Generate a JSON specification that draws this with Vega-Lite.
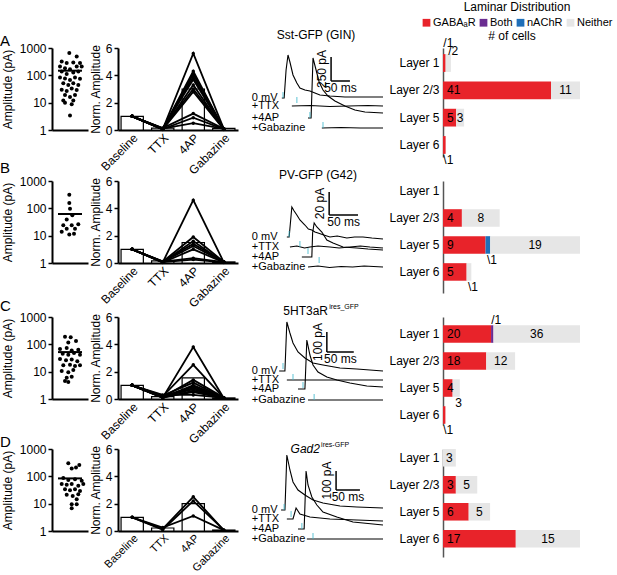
{
"$schema":"https://vega.github.io/schema/vega-lite/v6.json",
"padding":{"left":0,"top":2,"right":0,"bottom":0},
"columns":4,
"bounds":"flush",
"align":"each",
"spacing":{"row":24,"column":30},
"resolve":{"scale":{"color":"independent"}},
"config":{
 "font":"Liberation Sans",
 "view":{"stroke":null},
 "axis":{"domainColor":"#000","domainWidth":2,"tickColor":"#000","tickWidth":1.5,"tickSize":4,"labelFontSize":12,"labelColor":"#000","titleFontSize":12,"titleFontWeight":"normal","titleColor":"#000","grid":false},
 "text":{"fontSize":12,"color":"#000"},
 "title":{"fontSize":15,"fontWeight":"normal","color":"#000"}
},
"datasets":{
 "amp":[
  {"row":"A","jx":17.3,"v":650},{"row":"A","jx":24.7,"v":490},{"row":"A","jx":9.7,"v":320},{"row":"A","jx":14.7,"v":280},{"row":"A","jx":21.3,"v":295},{"row":"A","jx":28,"v":280},{"row":"A","jx":8,"v":210},{"row":"A","jx":13,"v":182},{"row":"A","jx":18,"v":167},{"row":"A","jx":24.7,"v":209},{"row":"A","jx":29.7,"v":209},{"row":"A","jx":9.7,"v":137},{"row":"A","jx":14.7,"v":112},{"row":"A","jx":21.3,"v":126},{"row":"A","jx":26.3,"v":137},{"row":"A","jx":8,"v":84},{"row":"A","jx":13,"v":77},{"row":"A","jx":18,"v":67},{"row":"A","jx":23,"v":84},{"row":"A","jx":28,"v":75},{"row":"A","jx":11.3,"v":51},{"row":"A","jx":16.3,"v":44},{"row":"A","jx":21.3,"v":51},{"row":"A","jx":26.3,"v":44},{"row":"A","jx":9.7,"v":30},{"row":"A","jx":14.7,"v":27},{"row":"A","jx":19.7,"v":33},{"row":"A","jx":24.7,"v":29},{"row":"A","jx":13,"v":19},{"row":"A","jx":18,"v":16},{"row":"A","jx":23,"v":19},{"row":"A","jx":11.3,"v":12},{"row":"A","jx":21.3,"v":12},{"row":"A","jx":13,"v":10},{"row":"A","jx":19.7,"v":8.7},{"row":"A","jx":18,"v":3.4},
  {"row":"B","jx":17.3,"v":312},{"row":"B","jx":17.3,"v":156},{"row":"B","jx":18,"v":97},{"row":"B","jx":20.3,"v":56},{"row":"B","jx":14.7,"v":39},{"row":"B","jx":11.3,"v":24},{"row":"B","jx":19.7,"v":24},{"row":"B","jx":26.3,"v":26},{"row":"B","jx":14.7,"v":18},{"row":"B","jx":23,"v":18},{"row":"B","jx":9.7,"v":14},{"row":"B","jx":17.3,"v":11},{"row":"B","jx":22,"v":11.8},
  {"row":"C","jx":13,"v":191},{"row":"C","jx":18.7,"v":181},{"row":"C","jx":24,"v":133},{"row":"C","jx":16.3,"v":116},{"row":"C","jx":8,"v":67},{"row":"C","jx":14.7,"v":73},{"row":"C","jx":19.7,"v":60},{"row":"C","jx":26.3,"v":63},{"row":"C","jx":10.7,"v":45},{"row":"C","jx":16.3,"v":42},{"row":"C","jx":22,"v":48},{"row":"C","jx":28,"v":42},{"row":"C","jx":8,"v":29},{"row":"C","jx":14,"v":26},{"row":"C","jx":19.7,"v":28},{"row":"C","jx":25.3,"v":24},{"row":"C","jx":11.3,"v":17},{"row":"C","jx":18,"v":18},{"row":"C","jx":23,"v":16},{"row":"C","jx":28,"v":17},{"row":"C","jx":9.7,"v":10.5},{"row":"C","jx":16.3,"v":9.6},{"row":"C","jx":21.3,"v":11.4},{"row":"C","jx":14.7,"v":6.0},{"row":"C","jx":19.7,"v":6.5},{"row":"C","jx":13,"v":4.6},{"row":"C","jx":16.3,"v":4.2},
  {"row":"D","jx":16.3,"v":298},{"row":"D","jx":27.3,"v":258},{"row":"D","jx":24,"v":212},{"row":"D","jx":19.7,"v":194},{"row":"D","jx":11.3,"v":86},{"row":"D","jx":16.3,"v":73},{"row":"D","jx":23,"v":79},{"row":"D","jx":29.7,"v":69},{"row":"D","jx":9.7,"v":52},{"row":"D","jx":14.7,"v":49},{"row":"D","jx":19.7,"v":52},{"row":"D","jx":26.3,"v":45},{"row":"D","jx":31.3,"v":52},{"row":"D","jx":13,"v":34},{"row":"D","jx":18,"v":31},{"row":"D","jx":23,"v":34},{"row":"D","jx":28,"v":29},{"row":"D","jx":14.7,"v":21},{"row":"D","jx":20.7,"v":19},{"row":"D","jx":26.3,"v":22},{"row":"D","jx":24.7,"v":14.5},{"row":"D","jx":19.7,"v":9.5},{"row":"D","jx":24.7,"v":9.5},{"row":"D","jx":19.7,"v":6.8}
 ],
 "ampMean":[{"row":"A","mean":148},{"row":"B","mean":62},{"row":"C","mean":52},{"row":"D","mean":84}],
 "normBar":[
  {"row":"A","cond":"Baseline","mean":1.0},{"row":"A","cond":"TTX","mean":0.14},{"row":"A","cond":"4AP","mean":3.0},{"row":"A","cond":"Gabazine","mean":0.12},
  {"row":"B","cond":"Baseline","mean":1.0},{"row":"B","cond":"TTX","mean":0.15},{"row":"B","cond":"4AP","mean":1.5},{"row":"B","cond":"Gabazine","mean":0.08},
  {"row":"C","cond":"Baseline","mean":1.0},{"row":"C","cond":"TTX","mean":0.17},{"row":"C","cond":"4AP","mean":1.55},{"row":"C","cond":"Gabazine","mean":0.08},
  {"row":"D","cond":"Baseline","mean":1.0},{"row":"D","cond":"TTX","mean":0.22},{"row":"D","cond":"4AP","mean":2.0},{"row":"D","cond":"Gabazine","mean":0.07}
 ],
 "norm":[
  {"row":"A","cell":1,"cond":"Baseline","v":1},{"row":"A","cell":1,"cond":"TTX","v":0.05},{"row":"A","cell":1,"cond":"4AP","v":5.6},{"row":"A","cell":1,"cond":"Gabazine","v":0.08},
  {"row":"A","cell":2,"cond":"Baseline","v":1},{"row":"A","cell":2,"cond":"TTX","v":0.08},{"row":"A","cell":2,"cond":"4AP","v":4.3},{"row":"A","cell":2,"cond":"Gabazine","v":0.05},
  {"row":"A","cell":3,"cond":"Baseline","v":1},{"row":"A","cell":3,"cond":"TTX","v":0.10},{"row":"A","cell":3,"cond":"4AP","v":4.1},{"row":"A","cell":3,"cond":"Gabazine","v":0.10},
  {"row":"A","cell":4,"cond":"Baseline","v":1},{"row":"A","cell":4,"cond":"TTX","v":0.04},{"row":"A","cell":4,"cond":"4AP","v":3.9},{"row":"A","cell":4,"cond":"Gabazine","v":0.06},
  {"row":"A","cell":5,"cond":"Baseline","v":1},{"row":"A","cell":5,"cond":"TTX","v":0.12},{"row":"A","cell":5,"cond":"4AP","v":3.7},{"row":"A","cell":5,"cond":"Gabazine","v":0.08},
  {"row":"A","cell":6,"cond":"Baseline","v":1},{"row":"A","cell":6,"cond":"TTX","v":0.06},{"row":"A","cell":6,"cond":"4AP","v":3.3},{"row":"A","cell":6,"cond":"Gabazine","v":0.04},
  {"row":"A","cell":7,"cond":"Baseline","v":1},{"row":"A","cell":7,"cond":"TTX","v":0.09},{"row":"A","cell":7,"cond":"4AP","v":3.0},{"row":"A","cell":7,"cond":"Gabazine","v":0.07},
  {"row":"A","cell":8,"cond":"Baseline","v":1},{"row":"A","cell":8,"cond":"TTX","v":0.05},{"row":"A","cell":8,"cond":"4AP","v":2.8},{"row":"A","cell":8,"cond":"Gabazine","v":0.05},
  {"row":"A","cell":9,"cond":"Baseline","v":1},{"row":"A","cell":9,"cond":"TTX","v":0.14},{"row":"A","cell":9,"cond":"4AP","v":1.2},{"row":"A","cell":9,"cond":"Gabazine","v":0.09},
  {"row":"A","cell":10,"cond":"Baseline","v":1},{"row":"A","cell":10,"cond":"TTX","v":0.07},{"row":"A","cell":10,"cond":"4AP","v":0.9},{"row":"A","cell":10,"cond":"Gabazine","v":0.06},
  {"row":"A","cell":11,"cond":"Baseline","v":1},{"row":"A","cell":11,"cond":"TTX","v":0.10},{"row":"A","cell":11,"cond":"4AP","v":0.5},{"row":"A","cell":11,"cond":"Gabazine","v":0.08},
  {"row":"B","cell":1,"cond":"Baseline","v":1},{"row":"B","cell":1,"cond":"TTX","v":0.05},{"row":"B","cell":1,"cond":"4AP","v":4.6},{"row":"B","cell":1,"cond":"Gabazine","v":0.05},
  {"row":"B","cell":2,"cond":"Baseline","v":1},{"row":"B","cell":2,"cond":"TTX","v":0.10},{"row":"B","cell":2,"cond":"4AP","v":1.9},{"row":"B","cell":2,"cond":"Gabazine","v":0.08},
  {"row":"B","cell":3,"cond":"Baseline","v":1},{"row":"B","cell":3,"cond":"TTX","v":0.06},{"row":"B","cell":3,"cond":"4AP","v":1.6},{"row":"B","cell":3,"cond":"Gabazine","v":0.04},
  {"row":"B","cell":4,"cond":"Baseline","v":1},{"row":"B","cell":4,"cond":"TTX","v":0.12},{"row":"B","cell":4,"cond":"4AP","v":1.4},{"row":"B","cell":4,"cond":"Gabazine","v":0.10},
  {"row":"B","cell":5,"cond":"Baseline","v":1},{"row":"B","cell":5,"cond":"TTX","v":0.08},{"row":"B","cell":5,"cond":"4AP","v":1.25},{"row":"B","cell":5,"cond":"Gabazine","v":0.06},
  {"row":"B","cell":6,"cond":"Baseline","v":1},{"row":"B","cell":6,"cond":"TTX","v":0.04},{"row":"B","cell":6,"cond":"4AP","v":1.0},{"row":"B","cell":6,"cond":"Gabazine","v":0.05},
  {"row":"B","cell":7,"cond":"Baseline","v":1},{"row":"B","cell":7,"cond":"TTX","v":0.10},{"row":"B","cell":7,"cond":"4AP","v":0.35},{"row":"B","cell":7,"cond":"Gabazine","v":0.07},
  {"row":"B","cell":8,"cond":"Baseline","v":1},{"row":"B","cell":8,"cond":"TTX","v":0.07},{"row":"B","cell":8,"cond":"4AP","v":0.25},{"row":"B","cell":8,"cond":"Gabazine","v":0.05},
  {"row":"C","cell":1,"cond":"Baseline","v":1},{"row":"C","cell":1,"cond":"TTX","v":0.10},{"row":"C","cell":1,"cond":"4AP","v":3.8},{"row":"C","cell":1,"cond":"Gabazine","v":0.05},
  {"row":"C","cell":2,"cond":"Baseline","v":1},{"row":"C","cell":2,"cond":"TTX","v":0.20},{"row":"C","cell":2,"cond":"4AP","v":2.5},{"row":"C","cell":2,"cond":"Gabazine","v":0.08},
  {"row":"C","cell":3,"cond":"Baseline","v":1},{"row":"C","cell":3,"cond":"TTX","v":0.15},{"row":"C","cell":3,"cond":"4AP","v":1.4},{"row":"C","cell":3,"cond":"Gabazine","v":0.10},
  {"row":"C","cell":4,"cond":"Baseline","v":1},{"row":"C","cell":4,"cond":"TTX","v":0.25},{"row":"C","cell":4,"cond":"4AP","v":1.2},{"row":"C","cell":4,"cond":"Gabazine","v":0.06},
  {"row":"C","cell":5,"cond":"Baseline","v":1},{"row":"C","cell":5,"cond":"TTX","v":0.10},{"row":"C","cell":5,"cond":"4AP","v":1.0},{"row":"C","cell":5,"cond":"Gabazine","v":0.08},
  {"row":"C","cell":6,"cond":"Baseline","v":1},{"row":"C","cell":6,"cond":"TTX","v":0.18},{"row":"C","cell":6,"cond":"4AP","v":0.9},{"row":"C","cell":6,"cond":"Gabazine","v":0.05},
  {"row":"C","cell":7,"cond":"Baseline","v":1},{"row":"C","cell":7,"cond":"TTX","v":0.12},{"row":"C","cell":7,"cond":"4AP","v":0.8},{"row":"C","cell":7,"cond":"Gabazine","v":0.07},
  {"row":"C","cell":8,"cond":"Baseline","v":1},{"row":"C","cell":8,"cond":"TTX","v":0.22},{"row":"C","cell":8,"cond":"4AP","v":0.7},{"row":"C","cell":8,"cond":"Gabazine","v":0.09},
  {"row":"C","cell":9,"cond":"Baseline","v":1},{"row":"C","cell":9,"cond":"TTX","v":0.08},{"row":"C","cell":9,"cond":"4AP","v":0.6},{"row":"C","cell":9,"cond":"Gabazine","v":0.05},
  {"row":"C","cell":10,"cond":"Baseline","v":1},{"row":"C","cell":10,"cond":"TTX","v":0.15},{"row":"C","cell":10,"cond":"4AP","v":0.5},{"row":"C","cell":10,"cond":"Gabazine","v":0.06},
  {"row":"C","cell":11,"cond":"Baseline","v":1},{"row":"C","cell":11,"cond":"TTX","v":0.30},{"row":"C","cell":11,"cond":"4AP","v":0.3},{"row":"C","cell":11,"cond":"Gabazine","v":0.08},
  {"row":"D","cell":1,"cond":"Baseline","v":1},{"row":"D","cell":1,"cond":"TTX","v":0.15},{"row":"D","cell":1,"cond":"4AP","v":2.5},{"row":"D","cell":1,"cond":"Gabazine","v":0.05},
  {"row":"D","cell":2,"cond":"Baseline","v":1},{"row":"D","cell":2,"cond":"TTX","v":0.10},{"row":"D","cell":2,"cond":"4AP","v":2.2},{"row":"D","cell":2,"cond":"Gabazine","v":0.08},
  {"row":"D","cell":3,"cond":"Baseline","v":1},{"row":"D","cell":3,"cond":"TTX","v":0.25},{"row":"D","cell":3,"cond":"4AP","v":1.1},{"row":"D","cell":3,"cond":"Gabazine","v":0.06}
 ],
 "trace":[
  {"row":"A","cond":"0 mV","t":36,"i":59},{"row":"A","cond":"0 mV","t":42,"i":59},{"row":"A","cond":"0 mV","t":47,"i":87},{"row":"A","cond":"0 mV","t":52,"i":102},{"row":"A","cond":"0 mV","t":57,"i":95},{"row":"A","cond":"0 mV","t":65,"i":82},{"row":"A","cond":"0 mV","t":75,"i":74},{"row":"A","cond":"0 mV","t":83,"i":69},{"row":"A","cond":"0 mV","t":96,"i":67},{"row":"A","cond":"0 mV","t":109,"i":66},{"row":"A","cond":"0 mV","t":122,"i":64},{"row":"A","cond":"0 mV","t":135,"i":62},{"row":"A","cond":"0 mV","t":161,"i":61},{"row":"A","cond":"0 mV","t":200,"i":60},{"row":"A","cond":"0 mV","t":240,"i":60},{"row":"A","cond":"0 mV","t":299,"i":60},
  {"row":"A","cond":"+TTX","t":62,"i":51},{"row":"A","cond":"+TTX","t":110,"i":51.5},{"row":"A","cond":"+TTX","t":160,"i":50.5},{"row":"A","cond":"+TTX","t":210,"i":51},{"row":"A","cond":"+TTX","t":260,"i":51.5},{"row":"A","cond":"+TTX","t":299,"i":51},
  {"row":"A","cond":"+4AP","t":104,"i":39},{"row":"A","cond":"+4AP","t":112,"i":39},{"row":"A","cond":"+4AP","t":117,"i":99},{"row":"A","cond":"+4AP","t":125,"i":87},{"row":"A","cond":"+4AP","t":133,"i":75},{"row":"A","cond":"+4AP","t":143,"i":67},{"row":"A","cond":"+4AP","t":156,"i":61},{"row":"A","cond":"+4AP","t":174,"i":56},{"row":"A","cond":"+4AP","t":200,"i":51},{"row":"A","cond":"+4AP","t":226,"i":47},{"row":"A","cond":"+4AP","t":252,"i":45},{"row":"A","cond":"+4AP","t":299,"i":44},
  {"row":"A","cond":"+Gabazine","t":140,"i":29},{"row":"A","cond":"+Gabazine","t":190,"i":29.5},{"row":"A","cond":"+Gabazine","t":240,"i":29},{"row":"A","cond":"+Gabazine","t":299,"i":29},
  {"row":"B","cond":"0 mV","t":49,"i":56},{"row":"B","cond":"0 mV","t":55,"i":56},{"row":"B","cond":"0 mV","t":62,"i":86},{"row":"B","cond":"0 mV","t":68,"i":82},{"row":"B","cond":"0 mV","t":75,"i":78},{"row":"B","cond":"0 mV","t":83,"i":73},{"row":"B","cond":"0 mV","t":96,"i":68},{"row":"B","cond":"0 mV","t":105,"i":64},{"row":"B","cond":"0 mV","t":114,"i":63},{"row":"B","cond":"0 mV","t":122,"i":61},{"row":"B","cond":"0 mV","t":130,"i":60},{"row":"B","cond":"0 mV","t":145,"i":58},{"row":"B","cond":"0 mV","t":161,"i":56},{"row":"B","cond":"0 mV","t":180,"i":57},{"row":"B","cond":"0 mV","t":205,"i":55},{"row":"B","cond":"0 mV","t":225,"i":56},{"row":"B","cond":"0 mV","t":247,"i":56},{"row":"B","cond":"0 mV","t":270,"i":55},{"row":"B","cond":"0 mV","t":299,"i":54},
  {"row":"B","cond":"+TTX","t":57,"i":46},{"row":"B","cond":"+TTX","t":75,"i":47},{"row":"B","cond":"+TTX","t":95,"i":45},{"row":"B","cond":"+TTX","t":109,"i":46},{"row":"B","cond":"+TTX","t":130,"i":47},{"row":"B","cond":"+TTX","t":161,"i":46},{"row":"B","cond":"+TTX","t":185,"i":45},{"row":"B","cond":"+TTX","t":213,"i":46},{"row":"B","cond":"+TTX","t":240,"i":47},{"row":"B","cond":"+TTX","t":265,"i":46},{"row":"B","cond":"+TTX","t":299,"i":45},
  {"row":"B","cond":"+4AP","t":88,"i":36},{"row":"B","cond":"+4AP","t":114,"i":36},{"row":"B","cond":"+4AP","t":116,"i":60},{"row":"B","cond":"+4AP","t":120,"i":70},{"row":"B","cond":"+4AP","t":127,"i":66},{"row":"B","cond":"+4AP","t":140,"i":61},{"row":"B","cond":"+4AP","t":153,"i":53},{"row":"B","cond":"+4AP","t":169,"i":50},{"row":"B","cond":"+4AP","t":195,"i":46},{"row":"B","cond":"+4AP","t":231,"i":45},{"row":"B","cond":"+4AP","t":260,"i":44},{"row":"B","cond":"+4AP","t":299,"i":43},
  {"row":"B","cond":"+Gabazine","t":104,"i":26},{"row":"B","cond":"+Gabazine","t":130,"i":27},{"row":"B","cond":"+Gabazine","t":160,"i":25.5},{"row":"B","cond":"+Gabazine","t":190,"i":26.5},{"row":"B","cond":"+Gabazine","t":220,"i":26},{"row":"B","cond":"+Gabazine","t":250,"i":27},{"row":"B","cond":"+Gabazine","t":299,"i":26},
  {"row":"C","cond":"0 mV","t":29,"i":54},{"row":"C","cond":"0 mV","t":44,"i":54},{"row":"C","cond":"0 mV","t":49,"i":103},{"row":"C","cond":"0 mV","t":57,"i":92},{"row":"C","cond":"0 mV","t":65,"i":82},{"row":"C","cond":"0 mV","t":78,"i":73},{"row":"C","cond":"0 mV","t":96,"i":67},{"row":"C","cond":"0 mV","t":117,"i":62},{"row":"C","cond":"0 mV","t":143,"i":60},{"row":"C","cond":"0 mV","t":187,"i":57},{"row":"C","cond":"0 mV","t":231,"i":56},{"row":"C","cond":"0 mV","t":299,"i":54},
  {"row":"C","cond":"+TTX","t":49,"i":45},{"row":"C","cond":"+TTX","t":120,"i":45},{"row":"C","cond":"+TTX","t":200,"i":45},{"row":"C","cond":"+TTX","t":299,"i":45},
  {"row":"C","cond":"+4AP","t":78,"i":36},{"row":"C","cond":"+4AP","t":96,"i":36},{"row":"C","cond":"+4AP","t":101,"i":85},{"row":"C","cond":"+4AP","t":109,"i":70},{"row":"C","cond":"+4AP","t":117,"i":60},{"row":"C","cond":"+4AP","t":130,"i":53},{"row":"C","cond":"+4AP","t":153,"i":48},{"row":"C","cond":"+4AP","t":179,"i":45},{"row":"C","cond":"+4AP","t":213,"i":42},{"row":"C","cond":"+4AP","t":257,"i":39},{"row":"C","cond":"+4AP","t":299,"i":38},
  {"row":"C","cond":"+Gabazine","t":104,"i":25},{"row":"C","cond":"+Gabazine","t":200,"i":25},{"row":"C","cond":"+Gabazine","t":299,"i":25},
  {"row":"D","cond":"0 mV","t":34,"i":47},{"row":"D","cond":"0 mV","t":44,"i":47},{"row":"D","cond":"0 mV","t":49,"i":102},{"row":"D","cond":"0 mV","t":57,"i":87},{"row":"D","cond":"0 mV","t":65,"i":75},{"row":"D","cond":"0 mV","t":78,"i":67},{"row":"D","cond":"0 mV","t":96,"i":62},{"row":"D","cond":"0 mV","t":117,"i":57},{"row":"D","cond":"0 mV","t":143,"i":54},{"row":"D","cond":"0 mV","t":187,"i":51},{"row":"D","cond":"0 mV","t":231,"i":50},{"row":"D","cond":"0 mV","t":299,"i":49},
  {"row":"D","cond":"+TTX","t":49,"i":38},{"row":"D","cond":"+TTX","t":65,"i":38},{"row":"D","cond":"+TTX","t":73,"i":49},{"row":"D","cond":"+TTX","t":83,"i":43},{"row":"D","cond":"+TTX","t":109,"i":40},{"row":"D","cond":"+TTX","t":161,"i":38},{"row":"D","cond":"+TTX","t":231,"i":37},{"row":"D","cond":"+TTX","t":299,"i":36},
  {"row":"D","cond":"+4AP","t":78,"i":28},{"row":"D","cond":"+4AP","t":94,"i":28},{"row":"D","cond":"+4AP","t":99,"i":86},{"row":"D","cond":"+4AP","t":104,"i":72},{"row":"D","cond":"+4AP","t":114,"i":60},{"row":"D","cond":"+4AP","t":127,"i":52},{"row":"D","cond":"+4AP","t":143,"i":45},{"row":"D","cond":"+4AP","t":179,"i":40},{"row":"D","cond":"+4AP","t":221,"i":35},{"row":"D","cond":"+4AP","t":299,"i":32},
  {"row":"D","cond":"+Gabazine","t":101,"i":18},{"row":"D","cond":"+Gabazine","t":200,"i":18},{"row":"D","cond":"+Gabazine","t":299,"i":18}
 ],
 "stim":[
  {"row":"A","cond":"0 mV","t":39,"i":62},{"row":"A","cond":"+TTX","t":75,"i":57},{"row":"A","cond":"+4AP","t":109,"i":42},{"row":"A","cond":"+Gabazine","t":143,"i":32},
  {"row":"B","cond":"0 mV","t":55,"i":59},{"row":"B","cond":"+TTX","t":83,"i":49},{"row":"B","cond":"+4AP","t":104,"i":42},{"row":"B","cond":"+Gabazine","t":133,"i":33},
  {"row":"C","cond":"0 mV","t":39,"i":59},{"row":"C","cond":"+TTX","t":65,"i":48},{"row":"C","cond":"+4AP","t":91,"i":40},{"row":"C","cond":"+Gabazine","t":120,"i":28},
  {"row":"D","cond":"0 mV","t":42,"i":50},{"row":"D","cond":"+TTX","t":60,"i":43},{"row":"D","cond":"+4AP","t":88,"i":31},{"row":"D","cond":"+Gabazine","t":117,"i":21}
 ],
 "scalebar":[
  {"row":"A","seg":"v","t":164,"i":100,"t2":164,"i2":76,"label":"250 pA"},{"row":"A","seg":"h","t":164,"i":76,"t2":213,"i2":76,"label":"50 ms"},
  {"row":"B","seg":"v","t":159,"i":101,"t2":159,"i2":78,"label":"20 pA"},{"row":"B","seg":"h","t":159,"i":78,"t2":234,"i2":78,"label":"50 ms"},
  {"row":"C","seg":"v","t":153,"i":93,"t2":153,"i2":73,"label":"100 pA"},{"row":"C","seg":"h","t":153,"i":73,"t2":223,"i2":73,"label":"50 ms"},
  {"row":"D","seg":"v","t":177,"i":86,"t2":177,"i2":67,"label":"100 pA"},{"row":"D","seg":"h","t":177,"i":67,"t2":239,"i2":67,"label":"50 ms"}
 ],
 "lam":[
  {"row":"A","layer":"Layer 1","type":"GABAₐR","n":1},{"row":"A","layer":"Layer 1","type":"Neither","n":2},
  {"row":"A","layer":"Layer 2/3","type":"GABAₐR","n":41},{"row":"A","layer":"Layer 2/3","type":"Neither","n":11},
  {"row":"A","layer":"Layer 5","type":"GABAₐR","n":5},{"row":"A","layer":"Layer 5","type":"Neither","n":3},
  {"row":"A","layer":"Layer 6","type":"GABAₐR","n":1},
  {"row":"B","layer":"Layer 2/3","type":"GABAₐR","n":4},{"row":"B","layer":"Layer 2/3","type":"Neither","n":8},
  {"row":"B","layer":"Layer 5","type":"GABAₐR","n":9},{"row":"B","layer":"Layer 5","type":"nAChR","n":1},{"row":"B","layer":"Layer 5","type":"Neither","n":19},
  {"row":"B","layer":"Layer 6","type":"GABAₐR","n":5},{"row":"B","layer":"Layer 6","type":"Neither","n":1},
  {"row":"C","layer":"Layer 1","type":"GABAₐR","n":20},{"row":"C","layer":"Layer 1","type":"Both","n":1},{"row":"C","layer":"Layer 1","type":"Neither","n":36},
  {"row":"C","layer":"Layer 2/3","type":"GABAₐR","n":18},{"row":"C","layer":"Layer 2/3","type":"Neither","n":12},
  {"row":"C","layer":"Layer 5","type":"GABAₐR","n":4},{"row":"C","layer":"Layer 5","type":"Neither","n":3},
  {"row":"C","layer":"Layer 6","type":"GABAₐR","n":1},
  {"row":"D","layer":"Layer 1","type":"Neither","n":3},
  {"row":"D","layer":"Layer 2/3","type":"GABAₐR","n":3},{"row":"D","layer":"Layer 2/3","type":"Neither","n":5},
  {"row":"D","layer":"Layer 5","type":"GABAₐR","n":6},{"row":"D","layer":"Layer 5","type":"Neither","n":5},
  {"row":"D","layer":"Layer 6","type":"GABAₐR","n":17},{"row":"D","layer":"Layer 6","type":"Neither","n":15}
 ]
},
"concat":[
 {"width":36,"height":82,
  "title":{"text":"A","anchor":"start","frame":"group","dx":-52,"dy":7,"offset":0},
  "layer":[
   {"data":{"name":"amp"},"transform":[{"filter":"datum.row=='A'"}],"mark":{"type":"circle","color":"#000","size":16,"opacity":1},
    "encoding":{"x":{"field":"jx","type":"quantitative","scale":{"domain":[0,36],"nice":false},"axis":{"labels":false,"ticks":false,"title":null}},
     "y":{"field":"v","type":"quantitative","scale":{"type":"log","domain":[1,1000]},"axis":{"values":[1,10,100,1000],"format":"d","title":"Amplitude (pA)","titlePadding":5}}}},
   {"data":{"name":"ampMean"},"transform":[{"filter":"datum.row=='A'"}],"mark":{"type":"rule","color":"#000","strokeWidth":2},
    "encoding":{"x":{"datum":6,"type":"quantitative","scale":{"domain":[0,36],"nice":false},"axis":{"labels":false,"ticks":false,"title":null}},"x2":{"datum":30},
     "y":{"field":"mean","type":"quantitative","scale":{"type":"log","domain":[1,1000]},"axis":{"values":[1,10,100,1000],"format":"d","title":"Amplitude (pA)","titlePadding":5}}}}
  ]},
 {"width":120,"height":82,
  "layer":[
   {"data":{"name":"normBar"},"transform":[{"filter":"datum.row=='A'"}],"mark":{"type":"bar","fill":"#fff","stroke":"#000","strokeWidth":1.2},
    "encoding":{"x":{"field":"cond","type":"nominal","scale":{"domain":["Baseline","TTX","4AP","Gabazine"],"paddingInner":0.27,"paddingOuter":0.1},"axis":{"title":null,"labelAngle":-45,"ticks":false,"labelPadding":2}},
     "y":{"field":"mean","type":"quantitative","scale":{"domain":[0,6]},"axis":{"values":[0,2,4,6],"title":"Norm. Amplitude","titlePadding":3}}}},
   {"data":{"name":"norm"},"transform":[{"filter":"datum.row=='A'"}],"mark":{"type":"line","color":"#000","strokeWidth":1.8},
    "encoding":{"x":{"field":"cond","type":"nominal","scale":{"domain":["Baseline","TTX","4AP","Gabazine"],"paddingInner":0.27,"paddingOuter":0.1},"axis":{"title":null,"labelAngle":-45,"ticks":false,"labelPadding":2}},
     "y":{"field":"v","type":"quantitative","scale":{"domain":[0,6]},"axis":{"values":[0,2,4,6],"title":"Norm. Amplitude","titlePadding":3}},"detail":{"field":"cell","type":"nominal"}}},
   {"data":{"name":"norm"},"transform":[{"filter":"datum.row=='A'"}],"mark":{"type":"circle","color":"#000","size":12,"opacity":1},
    "encoding":{"x":{"field":"cond","type":"nominal","scale":{"domain":["Baseline","TTX","4AP","Gabazine"],"paddingInner":0.27,"paddingOuter":0.1},"axis":{"title":null,"labelAngle":-45,"ticks":false,"labelPadding":2}},
     "y":{"field":"v","type":"quantitative","scale":{"domain":[0,6]},"axis":{"values":[0,2,4,6],"title":"Norm. Amplitude","titlePadding":3}}}}
  ]},
 {"width":145,"height":109,
  "layer":[
   {"data":{"name":"trace"},"transform":[{"filter":"datum.row=='A'"}],"mark":{"type":"line","color":"#000","strokeWidth":1.1},
    "encoding":{"x":{"field":"t","type":"quantitative","scale":{"domain":[0,377],"nice":false},"axis":null},"y":{"field":"i","type":"quantitative","scale":{"domain":[0,109],"nice":false},"axis":null},"detail":{"field":"cond","type":"nominal"}}},
   {"data":{"name":"trace"},"transform":[{"filter":"datum.row=='A'"},{"aggregate":[{"op":"argmin","field":"t","as":"first"}],"groupby":["cond"]}],"mark":{"type":"text","align":"left","baseline":"middle","fontSize":11},
    "encoding":{"x":{"datum":-42,"type":"quantitative","scale":{"domain":[0,377],"nice":false},"axis":null},"y":{"field":"first.i","type":"quantitative","scale":{"domain":[0,109],"nice":false},"axis":null},"text":{"field":"cond","type":"nominal"}}},
   {"data":{"name":"stim"},"transform":[{"filter":"datum.row=='A'"}],"mark":{"type":"tick","orient":"vertical","color":"#3fb8cc","size":6,"thickness":1.2},
    "encoding":{"x":{"field":"t","type":"quantitative","scale":{"domain":[0,377],"nice":false},"axis":null},"y":{"field":"i","type":"quantitative","scale":{"domain":[0,109],"nice":false},"axis":null}}},
   {"data":{"name":"scalebar"},"transform":[{"filter":"datum.row=='A'"}],"mark":{"type":"rule","color":"#000","strokeWidth":1.5},
    "encoding":{"x":{"field":"t","type":"quantitative","scale":{"domain":[0,377],"nice":false},"axis":null},"x2":{"field":"t2"},"y":{"field":"i","type":"quantitative","scale":{"domain":[0,109],"nice":false},"axis":null},"y2":{"field":"i2"}}},
   {"data":{"name":"scalebar"},"transform":[{"filter":"datum.row=='A' && datum.seg=='v'"},{"calculate":"(datum.i+datum.i2)/2","as":"im"}],"mark":{"type":"text","angle":270,"align":"center","baseline":"bottom","dy":-2},
    "encoding":{"x":{"field":"t","type":"quantitative","scale":{"domain":[0,377],"nice":false},"axis":null},"y":{"field":"im","type":"quantitative","scale":{"domain":[0,109],"nice":false},"axis":null},"text":{"field":"label","type":"nominal"}}},
   {"data":{"name":"scalebar"},"transform":[{"filter":"datum.row=='A' && datum.seg=='h'"},{"calculate":"(datum.t+datum.t2)/2","as":"tm"}],"mark":{"type":"text","align":"center","baseline":"top","dy":2},
    "encoding":{"x":{"field":"tm","type":"quantitative","scale":{"domain":[0,377],"nice":false},"axis":null},"y":{"field":"i","type":"quantitative","scale":{"domain":[0,109],"nice":false},"axis":null},"text":{"field":"label","type":"nominal"}}},
   {"data":{"values":[{}]},"mark":{"type":"text","align":"center","baseline":"middle"},
    "encoding":{"x":{"datum":125,"type":"quantitative","scale":{"domain":[0,377],"nice":false},"axis":null},"y":{"datum":122,"type":"quantitative","scale":{"domain":[0,109],"nice":false},"axis":null},"text":{"value":"Sst-GFP (GIN)"}}}
  ]},
 {"width":137,"height":109,
  "data":{"name":"lam"},
  "transform":[{"filter":"datum.row=='A'"},{"calculate":"indexof(['GABAₐR','Both','nAChR','Neither'], datum.type)","as":"ord"},{"stack":"n","groupby":["layer"],"sort":[{"field":"ord","order":"ascending"}],"as":["x0","x1"]},{"calculate":"(datum.x0+datum.x1)/2","as":"mid"},{"calculate":"datum.n<3 ? (datum.layer=='Layer 1' ? '/' : '\\\\') + datum.n : '' + datum.n","as":"lbl"}],
  "layer":[
   {"mark":{"type":"bar"},"encoding":{"x":{"field":"x0","type":"quantitative","scale":{"nice":false},"axis":{"orient":"top","labels":false,"ticks":false,"domain":false,"title":"# of cells","titlePadding":6}},"x2":{"field":"x1"},
     "y":{"field":"layer","type":"nominal","scale":{"domain":["Layer 1","Layer 2/3","Layer 5","Layer 6"],"paddingInner":0.35,"paddingOuter":0.17,"align":0.66},"axis":{"title":null,"ticks":false,"domainColor":"#555","domainWidth":1.5,"labelPadding":4}},
     "color":{"field":"type","type":"nominal","scale":{"domain":["GABAₐR","Both","nAChR","Neither"],"range":["#e8232a","#6a2c91","#1f6fb8","#e6e6e6"]},
      "legend":{"orient":"none","legendX":-22,"legendY":-46,"direction":"horizontal","columns":4,"title":"Laminar Distribution","titleAnchor":"middle","titleFontSize":12,"titleFontWeight":"normal","titleColor":"#000","titlePadding":3,"labelFontSize":11,"labelColor":"#000","symbolType":"square","symbolSize":60,"symbolStrokeWidth":0,"labelOffset":1,"columnPadding":2,"padding":0}}}},
   {"transform":[{"filter":"datum.type=='GABAₐR' && datum.n>=3"}],"mark":{"type":"text","align":"left","baseline":"middle","dx":4},
    "encoding":{"x":{"field":"x0","type":"quantitative","scale":{"nice":false},"axis":{"orient":"top","labels":false,"ticks":false,"domain":false,"title":"# of cells","titlePadding":6}},"y":{"field":"layer","type":"nominal","scale":{"domain":["Layer 1","Layer 2/3","Layer 5","Layer 6"],"paddingInner":0.35,"paddingOuter":0.17,"align":0.66},"axis":{"title":null,"ticks":false,"domainColor":"#555","domainWidth":1.5,"labelPadding":4}},"text":{"field":"lbl"}}},
   {"transform":[{"filter":"datum.type!='GABAₐR' && datum.n>=3"}],"mark":{"type":"text","align":"center","baseline":"middle"},
    "encoding":{"x":{"field":"mid","type":"quantitative","scale":{"nice":false},"axis":{"orient":"top","labels":false,"ticks":false,"domain":false,"title":"# of cells","titlePadding":6}},"y":{"field":"layer","type":"nominal","scale":{"domain":["Layer 1","Layer 2/3","Layer 5","Layer 6"],"paddingInner":0.35,"paddingOuter":0.17,"align":0.66},"axis":{"title":null,"ticks":false,"domainColor":"#555","domainWidth":1.5,"labelPadding":4}},"text":{"field":"lbl"}}},
   {"transform":[{"filter":"datum.layer=='Layer 1' && datum.n<3 && datum.type=='GABAₐR'"}],"mark":{"type":"text","align":"left","baseline":"middle","dy":-20,"dx":-1},
    "encoding":{"x":{"field":"mid","type":"quantitative","scale":{"nice":false},"axis":{"orient":"top","labels":false,"ticks":false,"domain":false,"title":"# of cells","titlePadding":6}},"y":{"field":"layer","type":"nominal","scale":{"domain":["Layer 1","Layer 2/3","Layer 5","Layer 6"],"paddingInner":0.35,"paddingOuter":0.17,"align":0.66},"axis":{"title":null,"ticks":false,"domainColor":"#555","domainWidth":1.5,"labelPadding":4}},"text":{"field":"lbl"}}},
   {"transform":[{"filter":"datum.layer=='Layer 1' && datum.n<3 && datum.type!='GABAₐR'"}],"mark":{"type":"text","align":"left","baseline":"middle","dy":-12,"dx":0},
    "encoding":{"x":{"field":"mid","type":"quantitative","scale":{"nice":false},"axis":{"orient":"top","labels":false,"ticks":false,"domain":false,"title":"# of cells","titlePadding":6}},"y":{"field":"layer","type":"nominal","scale":{"domain":["Layer 1","Layer 2/3","Layer 5","Layer 6"],"paddingInner":0.35,"paddingOuter":0.17,"align":0.66},"axis":{"title":null,"ticks":false,"domainColor":"#555","domainWidth":1.5,"labelPadding":4}},"text":{"field":"lbl"}}},
   {"transform":[{"filter":"datum.layer!='Layer 1' && datum.n<3"}],"mark":{"type":"text","align":"left","baseline":"middle","dy":15,"dx":-1},
    "encoding":{"x":{"field":"mid","type":"quantitative","scale":{"nice":false},"axis":{"orient":"top","labels":false,"ticks":false,"domain":false,"title":"# of cells","titlePadding":6}},"y":{"field":"layer","type":"nominal","scale":{"domain":["Layer 1","Layer 2/3","Layer 5","Layer 6"],"paddingInner":0.35,"paddingOuter":0.17,"align":0.66},"axis":{"title":null,"ticks":false,"domainColor":"#555","domainWidth":1.5,"labelPadding":4}},"text":{"field":"lbl"}}}
  ]},

 {"width":36,"height":82,
  "title":{"text":"B","anchor":"start","frame":"group","dx":-52,"dy":1,"offset":0},
  "layer":[
   {"data":{"name":"amp"},"transform":[{"filter":"datum.row=='B'"}],"mark":{"type":"circle","color":"#000","size":16,"opacity":1},
    "encoding":{"x":{"field":"jx","type":"quantitative","scale":{"domain":[0,36],"nice":false},"axis":{"labels":false,"ticks":false,"title":null}},
     "y":{"field":"v","type":"quantitative","scale":{"type":"log","domain":[1,1000]},"axis":{"values":[1,10,100,1000],"format":"d","title":"Amplitude (pA)","titlePadding":5}}}},
   {"data":{"name":"ampMean"},"transform":[{"filter":"datum.row=='B'"}],"mark":{"type":"rule","color":"#000","strokeWidth":2},
    "encoding":{"x":{"datum":6,"type":"quantitative","scale":{"domain":[0,36],"nice":false},"axis":{"labels":false,"ticks":false,"title":null}},"x2":{"datum":30},
     "y":{"field":"mean","type":"quantitative","scale":{"type":"log","domain":[1,1000]},"axis":{"values":[1,10,100,1000],"format":"d","title":"Amplitude (pA)","titlePadding":5}}}}
  ]},
 {"width":120,"height":82,
  "layer":[
   {"data":{"name":"normBar"},"transform":[{"filter":"datum.row=='B'"}],"mark":{"type":"bar","fill":"#fff","stroke":"#000","strokeWidth":1.2},
    "encoding":{"x":{"field":"cond","type":"nominal","scale":{"domain":["Baseline","TTX","4AP","Gabazine"],"paddingInner":0.27,"paddingOuter":0.1},"axis":{"title":null,"labelAngle":-45,"ticks":false,"labelPadding":2}},
     "y":{"field":"mean","type":"quantitative","scale":{"domain":[0,6]},"axis":{"values":[0,2,4,6],"title":"Norm. Amplitude","titlePadding":3}}}},
   {"data":{"name":"norm"},"transform":[{"filter":"datum.row=='B'"}],"mark":{"type":"line","color":"#000","strokeWidth":1.8},
    "encoding":{"x":{"field":"cond","type":"nominal","scale":{"domain":["Baseline","TTX","4AP","Gabazine"],"paddingInner":0.27,"paddingOuter":0.1},"axis":{"title":null,"labelAngle":-45,"ticks":false,"labelPadding":2}},
     "y":{"field":"v","type":"quantitative","scale":{"domain":[0,6]},"axis":{"values":[0,2,4,6],"title":"Norm. Amplitude","titlePadding":3}},"detail":{"field":"cell","type":"nominal"}}},
   {"data":{"name":"norm"},"transform":[{"filter":"datum.row=='B'"}],"mark":{"type":"circle","color":"#000","size":12,"opacity":1},
    "encoding":{"x":{"field":"cond","type":"nominal","scale":{"domain":["Baseline","TTX","4AP","Gabazine"],"paddingInner":0.27,"paddingOuter":0.1},"axis":{"title":null,"labelAngle":-45,"ticks":false,"labelPadding":2}},
     "y":{"field":"v","type":"quantitative","scale":{"domain":[0,6]},"axis":{"values":[0,2,4,6],"title":"Norm. Amplitude","titlePadding":3}}}}
  ]},
 {"width":145,"height":112,
  "layer":[
   {"data":{"name":"trace"},"transform":[{"filter":"datum.row=='B'"}],"mark":{"type":"line","color":"#000","strokeWidth":1.1},
    "encoding":{"x":{"field":"t","type":"quantitative","scale":{"domain":[0,377],"nice":false},"axis":null},"y":{"field":"i","type":"quantitative","scale":{"domain":[0,112],"nice":false},"axis":null},"detail":{"field":"cond","type":"nominal"}}},
   {"data":{"name":"trace"},"transform":[{"filter":"datum.row=='B'"},{"aggregate":[{"op":"argmin","field":"t","as":"first"}],"groupby":["cond"]}],"mark":{"type":"text","align":"left","baseline":"middle","fontSize":11},
    "encoding":{"x":{"datum":-42,"type":"quantitative","scale":{"domain":[0,377],"nice":false},"axis":null},"y":{"field":"first.i","type":"quantitative","scale":{"domain":[0,112],"nice":false},"axis":null},"text":{"field":"cond","type":"nominal"}}},
   {"data":{"name":"stim"},"transform":[{"filter":"datum.row=='B'"}],"mark":{"type":"tick","orient":"vertical","color":"#3fb8cc","size":6,"thickness":1.2},
    "encoding":{"x":{"field":"t","type":"quantitative","scale":{"domain":[0,377],"nice":false},"axis":null},"y":{"field":"i","type":"quantitative","scale":{"domain":[0,112],"nice":false},"axis":null}}},
   {"data":{"name":"scalebar"},"transform":[{"filter":"datum.row=='B'"}],"mark":{"type":"rule","color":"#000","strokeWidth":1.5},
    "encoding":{"x":{"field":"t","type":"quantitative","scale":{"domain":[0,377],"nice":false},"axis":null},"x2":{"field":"t2"},"y":{"field":"i","type":"quantitative","scale":{"domain":[0,112],"nice":false},"axis":null},"y2":{"field":"i2"}}},
   {"data":{"name":"scalebar"},"transform":[{"filter":"datum.row=='B' && datum.seg=='v'"},{"calculate":"(datum.i+datum.i2)/2","as":"im"}],"mark":{"type":"text","angle":270,"align":"center","baseline":"bottom","dy":-2},
    "encoding":{"x":{"field":"t","type":"quantitative","scale":{"domain":[0,377],"nice":false},"axis":null},"y":{"field":"im","type":"quantitative","scale":{"domain":[0,112],"nice":false},"axis":null},"text":{"field":"label","type":"nominal"}}},
   {"data":{"name":"scalebar"},"transform":[{"filter":"datum.row=='B' && datum.seg=='h'"},{"calculate":"(datum.t+datum.t2)/2","as":"tm"}],"mark":{"type":"text","align":"center","baseline":"top","dy":2},
    "encoding":{"x":{"field":"tm","type":"quantitative","scale":{"domain":[0,377],"nice":false},"axis":null},"y":{"field":"i","type":"quantitative","scale":{"domain":[0,112],"nice":false},"axis":null},"text":{"field":"label","type":"nominal"}}},
   {"data":{"values":[{}]},"mark":{"type":"text","align":"center","baseline":"middle"},
    "encoding":{"x":{"datum":130,"type":"quantitative","scale":{"domain":[0,377],"nice":false},"axis":null},"y":{"datum":118,"type":"quantitative","scale":{"domain":[0,112],"nice":false},"axis":null},"text":{"value":"PV-GFP (G42)"}}}
  ]},
 {"width":137,"height":112,
  "data":{"name":"lam"},
  "transform":[{"filter":"datum.row=='B'"},{"calculate":"indexof(['GABAₐR','Both','nAChR','Neither'], datum.type)","as":"ord"},{"stack":"n","groupby":["layer"],"sort":[{"field":"ord","order":"ascending"}],"as":["x0","x1"]},{"calculate":"(datum.x0+datum.x1)/2","as":"mid"},{"calculate":"datum.n<3 ? (datum.layer=='Layer 1' ? '/' : '\\\\') + datum.n : '' + datum.n","as":"lbl"}],
  "layer":[
   {"mark":{"type":"bar"},"encoding":{"x":{"field":"x0","type":"quantitative","scale":{"nice":false},"axis":null},"x2":{"field":"x1"},
     "y":{"field":"layer","type":"nominal","scale":{"domain":["Layer 1","Layer 2/3","Layer 5","Layer 6"],"paddingInner":0.35,"paddingOuter":0.25,"align":0.09},"axis":{"title":null,"ticks":false,"domainColor":"#555","domainWidth":1.5,"labelPadding":4}},
     "color":{"field":"type","type":"nominal","scale":{"domain":["GABAₐR","Both","nAChR","Neither"],"range":["#e8232a","#6a2c91","#1f6fb8","#e6e6e6"]},"legend":null}}},
   {"transform":[{"filter":"datum.type=='GABAₐR' && datum.n>=3"}],"mark":{"type":"text","align":"left","baseline":"middle","dx":4},
    "encoding":{"x":{"field":"x0","type":"quantitative","scale":{"nice":false},"axis":null},"y":{"field":"layer","type":"nominal","scale":{"domain":["Layer 1","Layer 2/3","Layer 5","Layer 6"],"paddingInner":0.35,"paddingOuter":0.25,"align":0.09},"axis":{"title":null,"ticks":false,"domainColor":"#555","domainWidth":1.5,"labelPadding":4}},"text":{"field":"lbl"}}},
   {"transform":[{"filter":"datum.type!='GABAₐR' && datum.n>=3"}],"mark":{"type":"text","align":"center","baseline":"middle"},
    "encoding":{"x":{"field":"mid","type":"quantitative","scale":{"nice":false},"axis":null},"y":{"field":"layer","type":"nominal","scale":{"domain":["Layer 1","Layer 2/3","Layer 5","Layer 6"],"paddingInner":0.35,"paddingOuter":0.25,"align":0.09},"axis":{"title":null,"ticks":false,"domainColor":"#555","domainWidth":1.5,"labelPadding":4}},"text":{"field":"lbl"}}},
   {"transform":[{"filter":"datum.layer!='Layer 1' && datum.n<3"}],"mark":{"type":"text","align":"left","baseline":"middle","dy":15,"dx":-1},
    "encoding":{"x":{"field":"mid","type":"quantitative","scale":{"nice":false},"axis":null},"y":{"field":"layer","type":"nominal","scale":{"domain":["Layer 1","Layer 2/3","Layer 5","Layer 6"],"paddingInner":0.35,"paddingOuter":0.25,"align":0.09},"axis":{"title":null,"ticks":false,"domainColor":"#555","domainWidth":1.5,"labelPadding":4}},"text":{"field":"lbl"}}}
  ]},

 {"width":36,"height":82,
  "title":{"text":"C","anchor":"start","frame":"group","dx":-52,"dy":3,"offset":0},
  "layer":[
   {"data":{"name":"amp"},"transform":[{"filter":"datum.row=='C'"}],"mark":{"type":"circle","color":"#000","size":16,"opacity":1},
    "encoding":{"x":{"field":"jx","type":"quantitative","scale":{"domain":[0,36],"nice":false},"axis":{"labels":false,"ticks":false,"title":null}},
     "y":{"field":"v","type":"quantitative","scale":{"type":"log","domain":[1,1000]},"axis":{"values":[1,10,100,1000],"format":"d","title":"Amplitude (pA)","titlePadding":5}}}},
   {"data":{"name":"ampMean"},"transform":[{"filter":"datum.row=='C'"}],"mark":{"type":"rule","color":"#000","strokeWidth":2},
    "encoding":{"x":{"datum":6,"type":"quantitative","scale":{"domain":[0,36],"nice":false},"axis":{"labels":false,"ticks":false,"title":null}},"x2":{"datum":30},
     "y":{"field":"mean","type":"quantitative","scale":{"type":"log","domain":[1,1000]},"axis":{"values":[1,10,100,1000],"format":"d","title":"Amplitude (pA)","titlePadding":5}}}}
  ]},
 {"width":120,"height":82,
  "layer":[
   {"data":{"name":"normBar"},"transform":[{"filter":"datum.row=='C'"}],"mark":{"type":"bar","fill":"#fff","stroke":"#000","strokeWidth":1.2},
    "encoding":{"x":{"field":"cond","type":"nominal","scale":{"domain":["Baseline","TTX","4AP","Gabazine"],"paddingInner":0.27,"paddingOuter":0.1},"axis":{"title":null,"labelAngle":-45,"ticks":false,"labelPadding":2}},
     "y":{"field":"mean","type":"quantitative","scale":{"domain":[0,6]},"axis":{"values":[0,2,4,6],"title":"Norm. Amplitude","titlePadding":3}}}},
   {"data":{"name":"norm"},"transform":[{"filter":"datum.row=='C'"}],"mark":{"type":"line","color":"#000","strokeWidth":1.8},
    "encoding":{"x":{"field":"cond","type":"nominal","scale":{"domain":["Baseline","TTX","4AP","Gabazine"],"paddingInner":0.27,"paddingOuter":0.1},"axis":{"title":null,"labelAngle":-45,"ticks":false,"labelPadding":2}},
     "y":{"field":"v","type":"quantitative","scale":{"domain":[0,6]},"axis":{"values":[0,2,4,6],"title":"Norm. Amplitude","titlePadding":3}},"detail":{"field":"cell","type":"nominal"}}},
   {"data":{"name":"norm"},"transform":[{"filter":"datum.row=='C'"}],"mark":{"type":"circle","color":"#000","size":12,"opacity":1},
    "encoding":{"x":{"field":"cond","type":"nominal","scale":{"domain":["Baseline","TTX","4AP","Gabazine"],"paddingInner":0.27,"paddingOuter":0.1},"axis":{"title":null,"labelAngle":-45,"ticks":false,"labelPadding":2}},
     "y":{"field":"v","type":"quantitative","scale":{"domain":[0,6]},"axis":{"values":[0,2,4,6],"title":"Norm. Amplitude","titlePadding":3}}}}
  ]},
 {"width":145,"height":108,
  "layer":[
   {"data":{"name":"trace"},"transform":[{"filter":"datum.row=='C'"}],"mark":{"type":"line","color":"#000","strokeWidth":1.1},
    "encoding":{"x":{"field":"t","type":"quantitative","scale":{"domain":[0,377],"nice":false},"axis":null},"y":{"field":"i","type":"quantitative","scale":{"domain":[0,108],"nice":false},"axis":null},"detail":{"field":"cond","type":"nominal"}}},
   {"data":{"name":"trace"},"transform":[{"filter":"datum.row=='C'"},{"aggregate":[{"op":"argmin","field":"t","as":"first"}],"groupby":["cond"]}],"mark":{"type":"text","align":"left","baseline":"middle","fontSize":11},
    "encoding":{"x":{"datum":-42,"type":"quantitative","scale":{"domain":[0,377],"nice":false},"axis":null},"y":{"field":"first.i","type":"quantitative","scale":{"domain":[0,108],"nice":false},"axis":null},"text":{"field":"cond","type":"nominal"}}},
   {"data":{"name":"stim"},"transform":[{"filter":"datum.row=='C'"}],"mark":{"type":"tick","orient":"vertical","color":"#3fb8cc","size":6,"thickness":1.2},
    "encoding":{"x":{"field":"t","type":"quantitative","scale":{"domain":[0,377],"nice":false},"axis":null},"y":{"field":"i","type":"quantitative","scale":{"domain":[0,108],"nice":false},"axis":null}}},
   {"data":{"name":"scalebar"},"transform":[{"filter":"datum.row=='C'"}],"mark":{"type":"rule","color":"#000","strokeWidth":1.5},
    "encoding":{"x":{"field":"t","type":"quantitative","scale":{"domain":[0,377],"nice":false},"axis":null},"x2":{"field":"t2"},"y":{"field":"i","type":"quantitative","scale":{"domain":[0,108],"nice":false},"axis":null},"y2":{"field":"i2"}}},
   {"data":{"name":"scalebar"},"transform":[{"filter":"datum.row=='C' && datum.seg=='v'"},{"calculate":"(datum.i+datum.i2)/2","as":"im"}],"mark":{"type":"text","angle":270,"align":"center","baseline":"bottom","dy":-2},
    "encoding":{"x":{"field":"t","type":"quantitative","scale":{"domain":[0,377],"nice":false},"axis":null},"y":{"field":"im","type":"quantitative","scale":{"domain":[0,108],"nice":false},"axis":null},"text":{"field":"label","type":"nominal"}}},
   {"data":{"name":"scalebar"},"transform":[{"filter":"datum.row=='C' && datum.seg=='h'"},{"calculate":"(datum.t+datum.t2)/2","as":"tm"}],"mark":{"type":"text","align":"center","baseline":"top","dy":2},
    "encoding":{"x":{"field":"tm","type":"quantitative","scale":{"domain":[0,377],"nice":false},"axis":null},"y":{"field":"i","type":"quantitative","scale":{"domain":[0,108],"nice":false},"axis":null},"text":{"field":"label","type":"nominal"}}},
   {"data":{"values":[{}]},"mark":{"type":"text","align":"right","baseline":"middle"},
    "encoding":{"x":{"datum":156,"type":"quantitative","scale":{"domain":[0,377],"nice":false},"axis":null},"y":{"datum":114,"type":"quantitative","scale":{"domain":[0,108],"nice":false},"axis":null},"text":{"value":"5HT3aR"}}},
   {"data":{"values":[{}]},"mark":{"type":"text","align":"left","baseline":"middle","fontSize":7},
    "encoding":{"x":{"datum":159,"type":"quantitative","scale":{"domain":[0,377],"nice":false},"axis":null},"y":{"datum":118,"type":"quantitative","scale":{"domain":[0,108],"nice":false},"axis":null},"text":{"value":"ires_GFP"}}}
  ]},
 {"width":137,"height":108,
  "data":{"name":"lam"},
  "transform":[{"filter":"datum.row=='C'"},{"calculate":"indexof(['GABAₐR','Both','nAChR','Neither'], datum.type)","as":"ord"},{"stack":"n","groupby":["layer"],"sort":[{"field":"ord","order":"ascending"}],"as":["x0","x1"]},{"calculate":"(datum.x0+datum.x1)/2","as":"mid"},{"calculate":"datum.n<3 ? (datum.layer=='Layer 1' ? '/' : '\\\\') + datum.n : '' + datum.n","as":"lbl"}],
  "layer":[
   {"mark":{"type":"bar"},"encoding":{"x":{"field":"x0","type":"quantitative","scale":{"nice":false},"axis":null},"x2":{"field":"x1"},
     "y":{"field":"layer","type":"nominal","scale":{"domain":["Layer 1","Layer 2/3","Layer 5","Layer 6"],"paddingInner":0.35,"paddingOuter":0.176,"align":0.87},"axis":{"title":null,"ticks":false,"domainColor":"#555","domainWidth":1.5,"labelPadding":4}},
     "color":{"field":"type","type":"nominal","scale":{"domain":["GABAₐR","Both","nAChR","Neither"],"range":["#e8232a","#6a2c91","#1f6fb8","#e6e6e6"]},"legend":null}}},
   {"transform":[{"filter":"datum.type=='GABAₐR' && datum.n>=3"}],"mark":{"type":"text","align":"left","baseline":"middle","dx":4},
    "encoding":{"x":{"field":"x0","type":"quantitative","scale":{"nice":false},"axis":null},"y":{"field":"layer","type":"nominal","scale":{"domain":["Layer 1","Layer 2/3","Layer 5","Layer 6"],"paddingInner":0.35,"paddingOuter":0.176,"align":0.87},"axis":{"title":null,"ticks":false,"domainColor":"#555","domainWidth":1.5,"labelPadding":4}},"text":{"field":"lbl"}}},
   {"transform":[{"filter":"datum.type!='GABAₐR' && datum.n>=3 && datum.layer!='Layer 5'"}],"mark":{"type":"text","align":"center","baseline":"middle"},
    "encoding":{"x":{"field":"mid","type":"quantitative","scale":{"nice":false},"axis":null},"y":{"field":"layer","type":"nominal","scale":{"domain":["Layer 1","Layer 2/3","Layer 5","Layer 6"],"paddingInner":0.35,"paddingOuter":0.176,"align":0.87},"axis":{"title":null,"ticks":false,"domainColor":"#555","domainWidth":1.5,"labelPadding":4}},"text":{"field":"lbl"}}},
   {"transform":[{"filter":"datum.layer=='Layer 1' && datum.n<3"}],"mark":{"type":"text","align":"left","baseline":"middle","dy":-14,"dx":-1},
    "encoding":{"x":{"field":"mid","type":"quantitative","scale":{"nice":false},"axis":null},"y":{"field":"layer","type":"nominal","scale":{"domain":["Layer 1","Layer 2/3","Layer 5","Layer 6"],"paddingInner":0.35,"paddingOuter":0.176,"align":0.87},"axis":{"title":null,"ticks":false,"domainColor":"#555","domainWidth":1.5,"labelPadding":4}},"text":{"field":"lbl"}}},
   {"transform":[{"filter":"datum.layer!='Layer 1' && (datum.n<3 || (datum.layer=='Layer 5' && datum.type=='Neither'))"}],"mark":{"type":"text","align":"left","baseline":"middle","dy":15,"dx":-1},
    "encoding":{"x":{"field":"mid","type":"quantitative","scale":{"nice":false},"axis":null},"y":{"field":"layer","type":"nominal","scale":{"domain":["Layer 1","Layer 2/3","Layer 5","Layer 6"],"paddingInner":0.35,"paddingOuter":0.176,"align":0.87},"axis":{"title":null,"ticks":false,"domainColor":"#555","domainWidth":1.5,"labelPadding":4}},"text":{"field":"lbl"}}}
  ]},

 {"width":36,"height":82,
  "title":{"text":"D","anchor":"start","frame":"group","dx":-52,"dy":7,"offset":0},
  "layer":[
   {"data":{"name":"amp"},"transform":[{"filter":"datum.row=='D'"}],"mark":{"type":"circle","color":"#000","size":16,"opacity":1},
    "encoding":{"x":{"field":"jx","type":"quantitative","scale":{"domain":[0,36],"nice":false},"axis":{"labels":false,"ticks":false,"title":null}},
     "y":{"field":"v","type":"quantitative","scale":{"type":"log","domain":[1,1000]},"axis":{"values":[1,10,100,1000],"format":"d","title":"Amplitude (pA)","titlePadding":5}}}},
   {"data":{"name":"ampMean"},"transform":[{"filter":"datum.row=='D'"}],"mark":{"type":"rule","color":"#000","strokeWidth":2},
    "encoding":{"x":{"datum":6,"type":"quantitative","scale":{"domain":[0,36],"nice":false},"axis":{"labels":false,"ticks":false,"title":null}},"x2":{"datum":30},
     "y":{"field":"mean","type":"quantitative","scale":{"type":"log","domain":[1,1000]},"axis":{"values":[1,10,100,1000],"format":"d","title":"Amplitude (pA)","titlePadding":5}}}}
  ]},
 {"width":120,"height":82,
  "layer":[
   {"data":{"name":"normBar"},"transform":[{"filter":"datum.row=='D'"}],"mark":{"type":"bar","fill":"#fff","stroke":"#000","strokeWidth":1.2},
    "encoding":{"x":{"field":"cond","type":"nominal","scale":{"domain":["Baseline","TTX","4AP","Gabazine"],"paddingInner":0.27,"paddingOuter":0.1},"axis":{"title":null,"labelAngle":-45,"ticks":false,"labelPadding":1,"labelFontSize":11}},
     "y":{"field":"mean","type":"quantitative","scale":{"domain":[0,6]},"axis":{"values":[0,2,4,6],"title":"Norm. Amplitude","titlePadding":3}}}},
   {"data":{"name":"norm"},"transform":[{"filter":"datum.row=='D'"}],"mark":{"type":"line","color":"#000","strokeWidth":1.8},
    "encoding":{"x":{"field":"cond","type":"nominal","scale":{"domain":["Baseline","TTX","4AP","Gabazine"],"paddingInner":0.27,"paddingOuter":0.1},"axis":{"title":null,"labelAngle":-45,"ticks":false,"labelPadding":1,"labelFontSize":11}},
     "y":{"field":"v","type":"quantitative","scale":{"domain":[0,6]},"axis":{"values":[0,2,4,6],"title":"Norm. Amplitude","titlePadding":3}},"detail":{"field":"cell","type":"nominal"}}},
   {"data":{"name":"norm"},"transform":[{"filter":"datum.row=='D'"}],"mark":{"type":"circle","color":"#000","size":12,"opacity":1},
    "encoding":{"x":{"field":"cond","type":"nominal","scale":{"domain":["Baseline","TTX","4AP","Gabazine"],"paddingInner":0.27,"paddingOuter":0.1},"axis":{"title":null,"labelAngle":-45,"ticks":false,"labelPadding":1,"labelFontSize":11}},
     "y":{"field":"v","type":"quantitative","scale":{"domain":[0,6]},"axis":{"values":[0,2,4,6],"title":"Norm. Amplitude","titlePadding":3}}}}
  ]},
 {"width":145,"height":108,
  "layer":[
   {"data":{"name":"trace"},"transform":[{"filter":"datum.row=='D'"}],"mark":{"type":"line","color":"#000","strokeWidth":1.1},
    "encoding":{"x":{"field":"t","type":"quantitative","scale":{"domain":[0,377],"nice":false},"axis":null},"y":{"field":"i","type":"quantitative","scale":{"domain":[0,108],"nice":false},"axis":null},"detail":{"field":"cond","type":"nominal"}}},
   {"data":{"name":"trace"},"transform":[{"filter":"datum.row=='D'"},{"aggregate":[{"op":"argmin","field":"t","as":"first"}],"groupby":["cond"]}],"mark":{"type":"text","align":"left","baseline":"middle","fontSize":11},
    "encoding":{"x":{"datum":-42,"type":"quantitative","scale":{"domain":[0,377],"nice":false},"axis":null},"y":{"field":"first.i","type":"quantitative","scale":{"domain":[0,108],"nice":false},"axis":null},"text":{"field":"cond","type":"nominal"}}},
   {"data":{"name":"stim"},"transform":[{"filter":"datum.row=='D'"}],"mark":{"type":"tick","orient":"vertical","color":"#3fb8cc","size":6,"thickness":1.2},
    "encoding":{"x":{"field":"t","type":"quantitative","scale":{"domain":[0,377],"nice":false},"axis":null},"y":{"field":"i","type":"quantitative","scale":{"domain":[0,108],"nice":false},"axis":null}}},
   {"data":{"name":"scalebar"},"transform":[{"filter":"datum.row=='D'"}],"mark":{"type":"rule","color":"#000","strokeWidth":1.5},
    "encoding":{"x":{"field":"t","type":"quantitative","scale":{"domain":[0,377],"nice":false},"axis":null},"x2":{"field":"t2"},"y":{"field":"i","type":"quantitative","scale":{"domain":[0,108],"nice":false},"axis":null},"y2":{"field":"i2"}}},
   {"data":{"name":"scalebar"},"transform":[{"filter":"datum.row=='D' && datum.seg=='v'"},{"calculate":"(datum.i+datum.i2)/2","as":"im"}],"mark":{"type":"text","angle":270,"align":"center","baseline":"bottom","dy":-2},
    "encoding":{"x":{"field":"t","type":"quantitative","scale":{"domain":[0,377],"nice":false},"axis":null},"y":{"field":"im","type":"quantitative","scale":{"domain":[0,108],"nice":false},"axis":null},"text":{"field":"label","type":"nominal"}}},
   {"data":{"name":"scalebar"},"transform":[{"filter":"datum.row=='D' && datum.seg=='h'"},{"calculate":"(datum.t+datum.t2)/2","as":"tm"}],"mark":{"type":"text","align":"center","baseline":"top","dy":2},
    "encoding":{"x":{"field":"tm","type":"quantitative","scale":{"domain":[0,377],"nice":false},"axis":null},"y":{"field":"i","type":"quantitative","scale":{"domain":[0,108],"nice":false},"axis":null},"text":{"field":"label","type":"nominal"}}},
   {"data":{"values":[{}]},"mark":{"type":"text","align":"right","baseline":"middle","fontStyle":"italic"},
    "encoding":{"x":{"datum":135,"type":"quantitative","scale":{"domain":[0,377],"nice":false},"axis":null},"y":{"datum":108,"type":"quantitative","scale":{"domain":[0,108],"nice":false},"axis":null},"text":{"value":"Gad2"}}},
   {"data":{"values":[{}]},"mark":{"type":"text","align":"left","baseline":"middle","fontSize":7},
    "encoding":{"x":{"datum":138,"type":"quantitative","scale":{"domain":[0,377],"nice":false},"axis":null},"y":{"datum":112,"type":"quantitative","scale":{"domain":[0,108],"nice":false},"axis":null},"text":{"value":"ires-GFP"}}}
  ]},
 {"width":137,"height":108,
  "data":{"name":"lam"},
  "transform":[{"filter":"datum.row=='D'"},{"calculate":"indexof(['GABAₐR','Both','nAChR','Neither'], datum.type)","as":"ord"},{"stack":"n","groupby":["layer"],"sort":[{"field":"ord","order":"ascending"}],"as":["x0","x1"]},{"calculate":"(datum.x0+datum.x1)/2","as":"mid"},{"calculate":"'' + datum.n","as":"lbl"}],
  "layer":[
   {"mark":{"type":"bar"},"encoding":{"x":{"field":"x0","type":"quantitative","scale":{"nice":false},"axis":null},"x2":{"field":"x1"},
     "y":{"field":"layer","type":"nominal","scale":{"domain":["Layer 1","Layer 2/3","Layer 5","Layer 6"],"paddingInner":0.35,"paddingOuter":0.175,"align":0},"axis":{"title":null,"ticks":false,"domainColor":"#555","domainWidth":1.5,"labelPadding":4}},
     "color":{"field":"type","type":"nominal","scale":{"domain":["GABAₐR","Both","nAChR","Neither"],"range":["#e8232a","#6a2c91","#1f6fb8","#e6e6e6"]},"legend":null}}},
   {"transform":[{"filter":"datum.type=='GABAₐR'"}],"mark":{"type":"text","align":"left","baseline":"middle","dx":4},
    "encoding":{"x":{"field":"x0","type":"quantitative","scale":{"nice":false},"axis":null},"y":{"field":"layer","type":"nominal","scale":{"domain":["Layer 1","Layer 2/3","Layer 5","Layer 6"],"paddingInner":0.35,"paddingOuter":0.175,"align":0},"axis":{"title":null,"ticks":false,"domainColor":"#555","domainWidth":1.5,"labelPadding":4}},"text":{"field":"lbl"}}},
   {"transform":[{"filter":"datum.type!='GABAₐR'"}],"mark":{"type":"text","align":"center","baseline":"middle"},
    "encoding":{"x":{"field":"mid","type":"quantitative","scale":{"nice":false},"axis":null},"y":{"field":"layer","type":"nominal","scale":{"domain":["Layer 1","Layer 2/3","Layer 5","Layer 6"],"paddingInner":0.35,"paddingOuter":0.175,"align":0},"axis":{"title":null,"ticks":false,"domainColor":"#555","domainWidth":1.5,"labelPadding":4}},"text":{"field":"lbl"}}}
  ]}
]
}
